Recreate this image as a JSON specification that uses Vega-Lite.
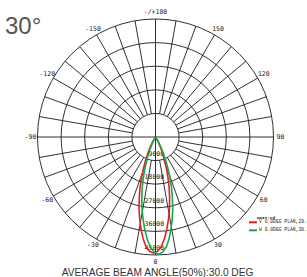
{
  "$schema": "https://vega.github.io/schema/vega-lite/v6.json",
  "width": 236,
  "height": 236,
  "autosize": "none",
  "padding": {"left": 37.5, "top": 19, "right": 33.5, "bottom": 22},
  "background": "white",
  "config": {"view": {"stroke": null}},
  "datasets": {
    "rings": [{"r": 9000}, {"r": 18000}, {"r": 27000}, {"r": 36000}, {"r": 45000}],
    "spokes": [
      {"a": -170, "r0": 9000, "r1": 45000}, {"a": -160, "r0": 9000, "r1": 45000}, {"a": -150, "r0": 9000, "r1": 45000}, {"a": -140, "r0": 9000, "r1": 45000},
      {"a": -130, "r0": 9000, "r1": 45000}, {"a": -120, "r0": 9000, "r1": 45000}, {"a": -110, "r0": 9000, "r1": 45000}, {"a": -100, "r0": 9000, "r1": 45000},
      {"a": -90, "r0": 0, "r1": 45000}, {"a": -80, "r0": 9000, "r1": 45000}, {"a": -70, "r0": 9000, "r1": 45000}, {"a": -60, "r0": 9000, "r1": 45000},
      {"a": -50, "r0": 9000, "r1": 45000}, {"a": -40, "r0": 9000, "r1": 45000}, {"a": -30, "r0": 9000, "r1": 45000}, {"a": -20, "r0": 9000, "r1": 45000},
      {"a": -10, "r0": 9000, "r1": 45000}, {"a": 0, "r0": 0, "r1": 45000}, {"a": 10, "r0": 9000, "r1": 45000}, {"a": 20, "r0": 9000, "r1": 45000},
      {"a": 30, "r0": 9000, "r1": 45000}, {"a": 40, "r0": 9000, "r1": 45000}, {"a": 50, "r0": 9000, "r1": 45000}, {"a": 60, "r0": 9000, "r1": 45000},
      {"a": 70, "r0": 9000, "r1": 45000}, {"a": 80, "r0": 9000, "r1": 45000}, {"a": 90, "r0": 0, "r1": 45000}, {"a": 100, "r0": 9000, "r1": 45000},
      {"a": 110, "r0": 9000, "r1": 45000}, {"a": 120, "r0": 9000, "r1": 45000}, {"a": 130, "r0": 9000, "r1": 45000}, {"a": 140, "r0": 9000, "r1": 45000},
      {"a": 150, "r0": 9000, "r1": 45000}, {"a": 160, "r0": 9000, "r1": 45000}, {"a": 170, "r0": 9000, "r1": 45000}, {"a": 180, "r0": 0, "r1": 45000}
    ],
    "angleLabels": [
      {"a": -150, "t": "-150"}, {"a": -120, "t": "-120"}, {"a": -90, "t": "-90"}, {"a": -60, "t": "-60"},
      {"a": -30, "t": "-30"}, {"a": 0, "t": "0"}, {"a": 30, "t": "30"}, {"a": 60, "t": "60"},
      {"a": 90, "t": "90"}, {"a": 120, "t": "120"}, {"a": 150, "t": "150"}, {"a": 180, "t": "-/+180"}
    ],
    "curves": [
      {"plane": "V 0.0DEG PLAN,29.7DEG", "a": -37, "I": 0},
      {"plane": "V 0.0DEG PLAN,29.7DEG", "a": -35, "I": 350},
      {"plane": "V 0.0DEG PLAN,29.7DEG", "a": -33, "I": 890},
      {"plane": "V 0.0DEG PLAN,29.7DEG", "a": -31, "I": 1770},
      {"plane": "V 0.0DEG PLAN,29.7DEG", "a": -29, "I": 3100},
      {"plane": "V 0.0DEG PLAN,29.7DEG", "a": -27, "I": 4870},
      {"plane": "V 0.0DEG PLAN,29.7DEG", "a": -25, "I": 7090},
      {"plane": "V 0.0DEG PLAN,29.7DEG", "a": -23, "I": 9750},
      {"plane": "V 0.0DEG PLAN,29.7DEG", "a": -21, "I": 12850},
      {"plane": "V 0.0DEG PLAN,29.7DEG", "a": -19, "I": 16390},
      {"plane": "V 0.0DEG PLAN,29.7DEG", "a": -17, "I": 20160},
      {"plane": "V 0.0DEG PLAN,29.7DEG", "a": -15, "I": 23920},
      {"plane": "V 0.0DEG PLAN,29.7DEG", "a": -13, "I": 27910},
      {"plane": "V 0.0DEG PLAN,29.7DEG", "a": -11, "I": 31680},
      {"plane": "V 0.0DEG PLAN,29.7DEG", "a": -9, "I": 35440},
      {"plane": "V 0.0DEG PLAN,29.7DEG", "a": -7, "I": 38980},
      {"plane": "V 0.0DEG PLAN,29.7DEG", "a": -5, "I": 41860},
      {"plane": "V 0.0DEG PLAN,29.7DEG", "a": -3, "I": 43640},
      {"plane": "V 0.0DEG PLAN,29.7DEG", "a": -1, "I": 44300},
      {"plane": "V 0.0DEG PLAN,29.7DEG", "a": 1, "I": 43640},
      {"plane": "V 0.0DEG PLAN,29.7DEG", "a": 3, "I": 41860},
      {"plane": "V 0.0DEG PLAN,29.7DEG", "a": 5, "I": 38980},
      {"plane": "V 0.0DEG PLAN,29.7DEG", "a": 7, "I": 35440},
      {"plane": "V 0.0DEG PLAN,29.7DEG", "a": 9, "I": 31680},
      {"plane": "V 0.0DEG PLAN,29.7DEG", "a": 11, "I": 27910},
      {"plane": "V 0.0DEG PLAN,29.7DEG", "a": 13, "I": 23920},
      {"plane": "V 0.0DEG PLAN,29.7DEG", "a": 15, "I": 20160},
      {"plane": "V 0.0DEG PLAN,29.7DEG", "a": 17, "I": 16390},
      {"plane": "V 0.0DEG PLAN,29.7DEG", "a": 19, "I": 12850},
      {"plane": "V 0.0DEG PLAN,29.7DEG", "a": 21, "I": 9750},
      {"plane": "V 0.0DEG PLAN,29.7DEG", "a": 23, "I": 7090},
      {"plane": "V 0.0DEG PLAN,29.7DEG", "a": 25, "I": 4870},
      {"plane": "V 0.0DEG PLAN,29.7DEG", "a": 27, "I": 3100},
      {"plane": "V 0.0DEG PLAN,29.7DEG", "a": 29, "I": 1770},
      {"plane": "V 0.0DEG PLAN,29.7DEG", "a": 31, "I": 890},
      {"plane": "V 0.0DEG PLAN,29.7DEG", "a": 33, "I": 350},
      {"plane": "V 0.0DEG PLAN,29.7DEG", "a": 35, "I": 0},
      {"plane": "H 0.0DEG PLAN,30.2DEG", "a": -34.5, "I": 0},
      {"plane": "H 0.0DEG PLAN,30.2DEG", "a": -32.5, "I": 360},
      {"plane": "H 0.0DEG PLAN,30.2DEG", "a": -30.5, "I": 890},
      {"plane": "H 0.0DEG PLAN,30.2DEG", "a": -28.5, "I": 1790},
      {"plane": "H 0.0DEG PLAN,30.2DEG", "a": -26.5, "I": 3130},
      {"plane": "H 0.0DEG PLAN,30.2DEG", "a": -24.5, "I": 4920},
      {"plane": "H 0.0DEG PLAN,30.2DEG", "a": -22.5, "I": 7150},
      {"plane": "H 0.0DEG PLAN,30.2DEG", "a": -20.5, "I": 9830},
      {"plane": "H 0.0DEG PLAN,30.2DEG", "a": -18.5, "I": 12960},
      {"plane": "H 0.0DEG PLAN,30.2DEG", "a": -16.5, "I": 16540},
      {"plane": "H 0.0DEG PLAN,30.2DEG", "a": -14.5, "I": 20340},
      {"plane": "H 0.0DEG PLAN,30.2DEG", "a": -12.5, "I": 24140},
      {"plane": "H 0.0DEG PLAN,30.2DEG", "a": -10.5, "I": 28160},
      {"plane": "H 0.0DEG PLAN,30.2DEG", "a": -8.5, "I": 31960},
      {"plane": "H 0.0DEG PLAN,30.2DEG", "a": -6.5, "I": 35760},
      {"plane": "H 0.0DEG PLAN,30.2DEG", "a": -4.5, "I": 39340},
      {"plane": "H 0.0DEG PLAN,30.2DEG", "a": -2.5, "I": 42240},
      {"plane": "H 0.0DEG PLAN,30.2DEG", "a": -0.5, "I": 44030},
      {"plane": "H 0.0DEG PLAN,30.2DEG", "a": 1.5, "I": 44700},
      {"plane": "H 0.0DEG PLAN,30.2DEG", "a": 3.5, "I": 44030},
      {"plane": "H 0.0DEG PLAN,30.2DEG", "a": 5.5, "I": 42240},
      {"plane": "H 0.0DEG PLAN,30.2DEG", "a": 7.5, "I": 39340},
      {"plane": "H 0.0DEG PLAN,30.2DEG", "a": 9.5, "I": 35760},
      {"plane": "H 0.0DEG PLAN,30.2DEG", "a": 11.5, "I": 31960},
      {"plane": "H 0.0DEG PLAN,30.2DEG", "a": 13.5, "I": 28160},
      {"plane": "H 0.0DEG PLAN,30.2DEG", "a": 15.5, "I": 24140},
      {"plane": "H 0.0DEG PLAN,30.2DEG", "a": 17.5, "I": 20340},
      {"plane": "H 0.0DEG PLAN,30.2DEG", "a": 19.5, "I": 16540},
      {"plane": "H 0.0DEG PLAN,30.2DEG", "a": 21.5, "I": 12960},
      {"plane": "H 0.0DEG PLAN,30.2DEG", "a": 23.5, "I": 9830},
      {"plane": "H 0.0DEG PLAN,30.2DEG", "a": 25.5, "I": 7150},
      {"plane": "H 0.0DEG PLAN,30.2DEG", "a": 27.5, "I": 4920},
      {"plane": "H 0.0DEG PLAN,30.2DEG", "a": 29.5, "I": 3130},
      {"plane": "H 0.0DEG PLAN,30.2DEG", "a": 31.5, "I": 1790},
      {"plane": "H 0.0DEG PLAN,30.2DEG", "a": 33.5, "I": 890},
      {"plane": "H 0.0DEG PLAN,30.2DEG", "a": 35.5, "I": 360},
      {"plane": "H 0.0DEG PLAN,30.2DEG", "a": 37.5, "I": 0}
    ],
    "notes": [
      {"t": "30°", "x": -57400, "y": 39170, "kind": "big"},
      {"t": "AVERAGE BEAM ANGLE(50%):30.0  DEG", "x": -35770, "y": -52890, "kind": "foot"},
      {"t": "UNIT:cd", "x": 38590, "y": -30700, "kind": "unit"}
    ]
  },
  "layer": [
    {
      "data": {"name": "rings"},
      "mark": {"type": "point", "shape": "circle", "filled": false, "stroke": "#1a1a1a", "strokeWidth": 0.9, "opacity": 1},
      "encoding": {
        "x": {"datum": 0, "type": "quantitative", "scale": {"domain": [-45000, 45000], "nice": false, "zero": false}, "axis": null},
        "y": {"datum": 0, "type": "quantitative", "scale": {"domain": [-45000, 45000], "nice": false, "zero": false}, "axis": null},
        "size": {"field": "r", "type": "quantitative", "scale": {"type": "pow", "exponent": 2, "domain": [0, 45000], "range": [0, 55696], "zero": true}, "legend": null}
      }
    },
    {
      "data": {"name": "spokes"},
      "transform": [
        {"fold": ["r0", "r1"], "as": ["end", "rad"]},
        {"calculate": "datum.rad * sin(datum.a * PI / 180)", "as": "sx"},
        {"calculate": "-datum.rad * cos(datum.a * PI / 180)", "as": "sy"}
      ],
      "mark": {"type": "line", "stroke": "#1a1a1a", "strokeWidth": 0.9},
      "encoding": {
        "x": {"field": "sx", "type": "quantitative"},
        "y": {"field": "sy", "type": "quantitative"},
        "detail": {"field": "a", "type": "nominal"},
        "order": {"field": "end", "type": "nominal"}
      }
    },
    {
      "data": {"name": "rings"},
      "transform": [{"calculate": "-datum.r", "as": "yy"}],
      "mark": {"type": "text", "font": "DejaVu Sans Mono", "fontSize": 6.5, "align": "right", "baseline": "middle", "dy": -7, "color": "#222"},
      "encoding": {
        "x": {"datum": 3300, "type": "quantitative"},
        "y": {"field": "yy", "type": "quantitative"},
        "text": {"field": "r", "type": "nominal"}
      }
    },
    {
      "data": {"name": "angleLabels"},
      "transform": [
        {"calculate": "47670 * sin(datum.a * PI / 180)", "as": "lx"},
        {"calculate": "-47670 * cos(datum.a * PI / 180)", "as": "ly"}
      ],
      "mark": {"type": "text", "font": "DejaVu Sans Mono", "fontSize": 6.5, "align": "center", "baseline": "middle", "color": "#222"},
      "encoding": {
        "x": {"field": "lx", "type": "quantitative"},
        "y": {"field": "ly", "type": "quantitative"},
        "text": {"field": "t", "type": "nominal"}
      }
    },
    {
      "data": {"name": "curves"},
      "transform": [
        {"calculate": "datum.I * sin(datum.a * PI / 180)", "as": "cx"},
        {"calculate": "-datum.I * cos(datum.a * PI / 180)", "as": "cy"}
      ],
      "mark": {"type": "line", "strokeWidth": 1.6},
      "encoding": {
        "x": {"field": "cx", "type": "quantitative"},
        "y": {"field": "cy", "type": "quantitative"},
        "order": {"field": "a", "type": "quantitative"},
        "color": {
          "field": "plane",
          "type": "nominal",
          "scale": {"domain": ["V 0.0DEG PLAN,29.7DEG", "H 0.0DEG PLAN,30.2DEG"], "range": ["#e3202a", "#14a84b"]},
          "legend": {
            "orient": "none",
            "legendX": 212,
            "legendY": 199.8,
            "title": null,
            "padding": 0,
            "symbolType": "M-1.6,0H1.6",
            "symbolSize": 25,
            "symbolStrokeWidth": 2,
            "labelFont": "Liberation Mono",
            "labelFontSize": 4.7,
            "labelColor": "#222",
            "labelLimit": 0,
            "labelOffset": 2.5,
            "rowPadding": -2
          }
        }
      }
    },
    {
      "data": {"name": "notes"},
      "transform": [{"filter": "datum.kind == 'big'"}],
      "mark": {"type": "text", "font": "Liberation Sans", "fontSize": 24, "align": "left", "baseline": "alphabetic", "color": "#555555"},
      "encoding": {
        "x": {"field": "x", "type": "quantitative"},
        "y": {"field": "y", "type": "quantitative"},
        "text": {"field": "t", "type": "nominal"}
      }
    },
    {
      "data": {"name": "notes"},
      "transform": [{"filter": "datum.kind == 'foot'"}],
      "mark": {"type": "text", "font": "Liberation Sans", "fontSize": 10.2, "align": "left", "baseline": "alphabetic", "color": "#333333"},
      "encoding": {
        "x": {"field": "x", "type": "quantitative"},
        "y": {"field": "y", "type": "quantitative"},
        "text": {"field": "t", "type": "nominal"}
      }
    },
    {
      "data": {"name": "notes"},
      "transform": [{"filter": "datum.kind == 'unit'"}],
      "mark": {"type": "text", "font": "Liberation Mono", "fontSize": 4.4, "fontWeight": "bold", "align": "left", "baseline": "middle", "color": "#222"},
      "encoding": {
        "x": {"field": "x", "type": "quantitative"},
        "y": {"field": "y", "type": "quantitative"},
        "text": {"field": "t", "type": "nominal"}
      }
    }
  ]
}
